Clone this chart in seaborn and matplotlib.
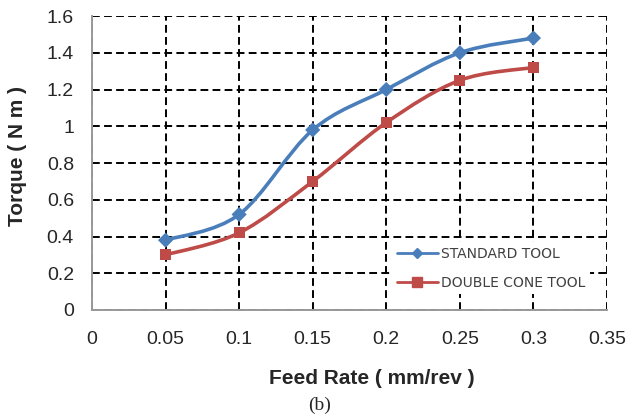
import numpy as np
import matplotlib
matplotlib.use("Agg")
import matplotlib.pyplot as plt
import seaborn as sns
import pandas as pd
from matplotlib.path import Path
from matplotlib.patches import PathPatch
from matplotlib.lines import Line2D

# Data
feed_rate = [0.05, 0.1, 0.15, 0.2, 0.25, 0.3]
standard_tool = [0.38, 0.52, 0.98, 1.2, 1.4, 1.48]
double_cone_tool = [0.30, 0.42, 0.70, 1.02, 1.25, 1.32]
series_names = ["STANDARD TOOL", "DOUBLE CONE TOOL"]
x_ticks = [0, 0.05, 0.1, 0.15, 0.2, 0.25, 0.3, 0.35]
y_ticks = [0, 0.2, 0.4, 0.6, 0.8, 1, 1.2, 1.4, 1.6]

BLUE = "#4A7EBB"
RED = "#BE4B48"

sns.set_style("white")
plt.rcParams["font.family"] = ["Liberation Sans", "DejaVu Sans"]


def smooth_path(xs, ys):
    # Excel-style smoothed line as cubic bezier segments through the points
    p = np.column_stack([xs, ys])
    n = len(p)
    verts = [tuple(p[0])]
    codes = [Path.MOVETO]
    for i in range(n - 1):
        p0 = p[i - 1] if i > 0 else p[i]
        p3 = p[i + 2] if i + 2 < n else p[i + 1]
        c1 = p[i] + (p[i + 1] - p0) / 6
        c2 = p[i + 1] - (p3 - p[i]) / 6
        verts += [tuple(c1), tuple(c2), tuple(p[i + 1])]
        codes += [Path.CURVE4] * 3
    return Path(verts, codes)


df = pd.DataFrame({
    "feed": feed_rate * 2,
    "torque": standard_tool + double_cone_tool,
    "tool": [series_names[0]] * len(feed_rate) + [series_names[1]] * len(feed_rate),
})

fig = plt.figure(figsize=(6.31, 4.2), dpi=100)
ax = fig.add_axes([92 / 631, 1 - 310 / 420, 515 / 631, 294 / 420])

for ys, col in [(standard_tool, BLUE), (double_cone_tool, RED)]:
    ax.add_patch(PathPatch(smooth_path(feed_rate, ys), facecolor="none",
                           edgecolor=col, lw=2.6, zorder=3))

sns.scatterplot(data=df, x="feed", y="torque", hue="tool", style="tool",
                markers={series_names[0]: "D", series_names[1]: "s"},
                palette={series_names[0]: BLUE, series_names[1]: RED},
                s=[60], edgecolor="none", ax=ax, zorder=4, legend=False)

ax.set_xlim(0, 0.35)
ax.set_ylim(0, 1.6)
ax.set_xticks(x_ticks)
ax.set_yticks(y_ticks)
ax.set_xticklabels([f"{t:g}" for t in x_ticks])
ax.set_yticklabels([f"{t:g}" for t in y_ticks])
ax.tick_params(labelsize=14, length=0)
ax.tick_params(axis="y", pad=13)
ax.tick_params(axis="x", pad=15)
ax.grid(True, color="black", linestyle=(0, (4, 2.2)), linewidth=1.4)
for s in ["top", "right"]:
    ax.spines[s].set_visible(False)
for s in ["left", "bottom"]:
    ax.spines[s].set_color("#999999")
    ax.spines[s].set_linewidth(1.4)
ax.set_xlabel("")
ax.set_ylabel("")

fig.text(18 / 631, 1 - 156 / 420, "Torque ( N m )", rotation=90, fontsize=15,
         fontweight="bold", ha="center", va="center")
fig.text(372 / 631, 1 - 379 / 420, "Feed Rate ( mm/rev )", fontsize=15,
         fontweight="bold", ha="center", va="center")
fig.text(320 / 631, 1 - 405 / 420, "(b)", fontsize=14, family="Liberation Serif",
         ha="center", va="center")

handles = [Line2D([], [], color=BLUE, marker="D", markersize=5, lw=2),
           Line2D([], [], color=RED, marker="s", markersize=7, lw=2)]
leg = ax.legend(handles, series_names, loc="center left",
                bbox_to_anchor=(0.57, 0.142), frameon=True, fontsize=10,
                handlelength=3.0, handletextpad=0.2, labelspacing=1.1,
                borderpad=0.3)
leg.get_frame().set_facecolor("white")
leg.get_frame().set_edgecolor("none")
leg.get_frame().set_alpha(1)
for t in leg.get_texts():
    t.set_color("#404040")
    t.set_family("DejaVu Sans")

fig.savefig("out.png", dpi=100)
